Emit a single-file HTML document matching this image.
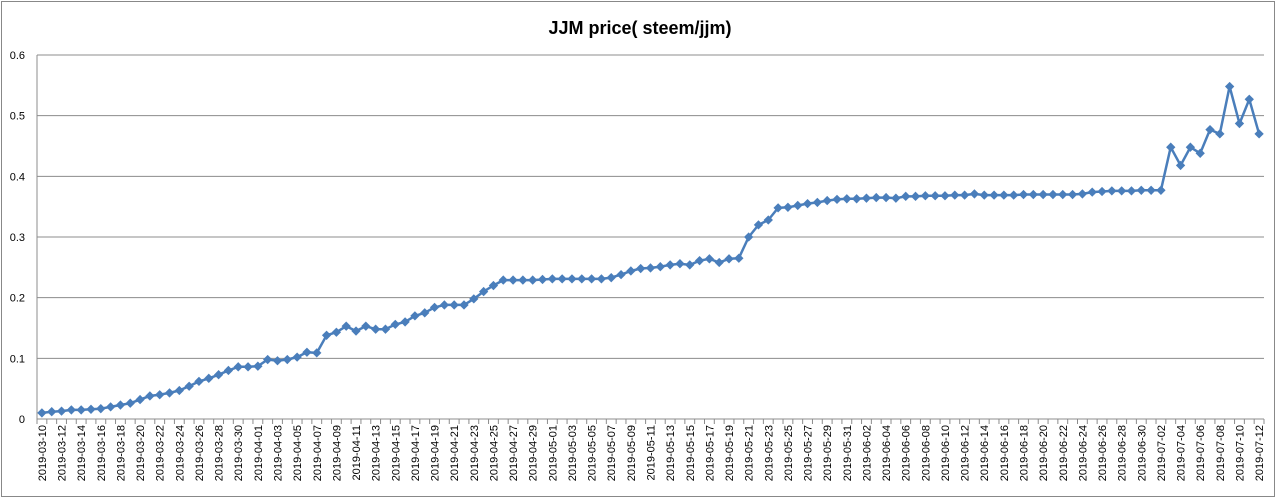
<!DOCTYPE html>
<html><head><meta charset="utf-8"><style>
html,body{margin:0;padding:0;background:#fff;width:1280px;height:499px;overflow:hidden}
svg text{font-family:"Liberation Sans",sans-serif}
</style></head><body>
<svg id="c" width="1280" height="499" xmlns="http://www.w3.org/2000/svg"></svg>
<script>
const v=[0.010,0.012,0.013,0.015,0.015,0.016,0.017,0.020,0.023,0.026,0.032,0.038,0.040,0.043,0.047,0.054,0.062,0.067,0.073,0.080,0.086,0.086,
0.087,0.098,0.096,0.098,0.102,0.110,0.109,0.138,0.143,0.153,0.145,0.153,0.148,0.148,0.156,0.160,0.170,0.175,0.184,0.188,0.188,0.188,0.198,0.210,0.220,0.229,0.229,0.229,0.229,0.230,
0.231,0.231,0.231,0.231,0.231,0.231,0.233,0.238,0.244,0.248,0.249,0.251,0.254,0.256,0.254,0.261,0.264,0.258,0.264,0.265,0.300,0.320,0.328,0.348,0.349,0.352,0.355,0.357,0.360,0.362,0.363,
0.363,0.364,0.365,0.365,0.364,0.367,0.367,0.368,0.368,0.368,0.369,0.369,0.371,0.369,0.369,0.369,0.369,0.370,0.370,0.370,0.370,0.370,0.370,0.371,0.374,0.375,0.376,0.376,0.376,0.377,
0.377,0.377,0.448,0.418,0.448,0.438,0.477,0.470,0.548,0.487,0.527,0.470];
const X0=37,X1=1264,Y0=419,S=364,n=125,w=(X1-X0)/n;
let s='<rect x="1.5" y="1.5" width="1273" height="495" fill="#fff" stroke="#888"/>';
s+='<text x="640" y="34" text-anchor="middle" font-size="18" font-weight="bold" fill="#000">JJM price( steem/jjm)</text>';
for(let i=0;i<=6;i++){const y=Y0-i*S/6;
 if(i>0)s+=`<line x1="${X0}" x2="${X1}" y1="${y}" y2="${y}" stroke="#8c8c8c" stroke-width="1"/>`;
 s+=`<text x="25" y="${y+4}" text-anchor="end" font-size="11" fill="#000">${i==0?'0':(i/10).toFixed(1)}</text>`;}
s+=`<line x1="${X0}" x2="${X0}" y1="${Y0-S}" y2="${Y0}" stroke="#8c8c8c"/>`;
s+=`<line x1="${X0}" x2="${X1}" y1="${Y0}" y2="${Y0}" stroke="#8c8c8c"/>`;
for(let i=0;i<=n;i++){const x=X0+i*w;s+=`<line x1="${x}" x2="${x}" y1="${Y0}" y2="${Y0+5}" stroke="#8c8c8c"/>`;}
const d0=new Date(Date.UTC(2019,2,10));
for(let i=0;i<n;i+=2){const d=new Date(d0.getTime()+i*864e5);const l=d.toISOString().slice(0,10);
 const x=X0+(i+0.5)*w+4;s+=`<text transform="translate(${x},${Y0+6}) rotate(-90)" text-anchor="end" font-size="11" fill="#000">${l}</text>`;}
const pts=v.map((a,i)=>[X0+(i+0.5)*w,Y0-a*S*10/6]);
const p=pts.map(q=>q[0].toFixed(1)+','+q[1].toFixed(1)).join(' ');
s+=`<polyline points="${p}" fill="none" stroke="#4a7ebb" stroke-width="2.5" stroke-linejoin="round"/>`;
pts.forEach(q=>{s+=`<rect x="${q[0]-3.3}" y="${q[1]-3.3}" width="6.6" height="6.6" fill="#4a7ebb" transform="rotate(45 ${q[0]} ${q[1]})"/>`;});
document.getElementById('c').innerHTML=s;
</script>
</body></html>
